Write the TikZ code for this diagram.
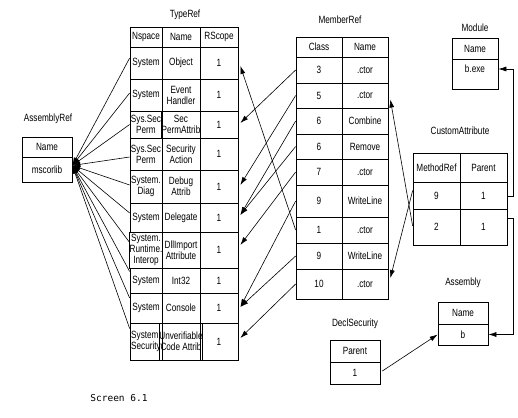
\documentclass[tikz,border=0pt]{standalone}
\usepackage{fontspec}
\setmainfont{Liberation Sans}
\newfontfamily\cond[FakeStretch=0.78]{Liberation Sans}
\newfontfamily\capfont{DejaVu Sans Mono}
\usetikzlibrary{arrows.meta,calc}
\newcommand\mycell[6]{\node[cell,minimum width={(#4)-(#2)},minimum height={(#5)-(#3)}] (#1) at ({((#2)+(#4))/2},{((#3)+(#5))/2}) {#6};}
\newcommand\trrow[6]{%
  \mycell{tr#1ns}{130}{#2}{162}{#3}{#4}%
  \mycell{tr#1nm}{162}{#2}{200}{#3}{#5}%
  \mycell{tr#1rs}{200}{#2}{238}{#3}{#6}}
\newcommand\mrrow[5]{%
  \mycell{mr#1cl}{296}{#2}{342}{#3}{#4}%
  \mycell{mr#1nm}{342}{#2}{388}{#3}{#5}}
\tikzset{
  cell/.style={draw,line width=0.7pt,inner sep=0pt,align=center,
    font=\cond\fontsize{10.5}{11}\selectfont},
  ttl/.style={inner sep=0pt,font=\cond\fontsize{10.5}{12}\selectfont},
  conn/.style={line width=0.6pt},
  tip/.tip={Latex[length=8pt,width=5pt]}
}
\begin{document}
\begin{tikzpicture}[x=1pt,y=-1pt]
\useasboundingbox (0,0) rectangle (518,417);
% ---------- TypeRef ----------
\node[ttl] (trt) at (185,15) {TypeRef};
\trrow{0}{27}{47}{Nspace}{Name}{RScope}
\trrow{1}{47}{79}{System}{Object}{1}
\trrow{2}{79}{111}{System}{Event\\Handler}{1}
\trrow{3}{111}{138}{Sys.Sec\\Perm}{Sec\\PermAttrib}{1}
\trrow{4}{138}{170}{Sys.Sec\\Perm}{Security\\Action}{1}
\trrow{5}{170}{203}{System.\\Diag}{Debug\\Attrib}{1}
\trrow{6}{203}{232}{System}{Delegate}{1}
\trrow{7}{232}{268}{System.\\Runtime.\\Interop}{DllImport\\Attribute}{1}
\trrow{8}{268}{293}{System}{Int32}{1}
\trrow{9}{293}{323}{System}{Console}{1}
\trrow{10}{323}{360}{System.\\Security}{Unverifiable\\Code Attrib}{1}
% ---------- AssemblyRef ----------
\node[ttl] (art) at (48,119) {AssemblyRef};
\mycell{arh}{22}{137}{72}{157}{Name}
\mycell{arv}{22}{157}{72}{182}{mscorlib}
% ---------- MemberRef ----------
\node[ttl] (mrt) at (340,20) {MemberRef};
\mrrow{0}{37}{57}{Class}{Name}
\mrrow{1}{57}{83}{3}{.ctor}
\mrrow{2}{83}{108}{5}{.ctor}
\mrrow{3}{108}{134}{6}{Combine}
\mrrow{4}{134}{159}{6}{Remove}
\mrrow{5}{159}{185}{7}{.ctor}
\mrrow{6}{185}{217}{9}{WriteLine}
\mrrow{7}{217}{243}{1}{.ctor}
\mrrow{8}{243}{269}{9}{WriteLine}
\mrrow{9}{269}{299}{10}{.ctor}
% ---------- Module ----------
\node[ttl] (modt) at (475,28) {Module};
\mycell{modh}{452}{38}{498}{59}{Name}
\node[cell,minimum width=46,minimum height=30,text height=7pt,text depth=9pt] (modv) at (475,74) {b.exe};
% ---------- CustomAttribute ----------
\node[ttl] (cat) at (460,131) {CustomAttribute};
\mycell{ca0mr}{413}{153}{460}{182}{MethodRef}
\mycell{ca0pa}{460}{153}{507}{182}{Parent}
\mycell{ca1mr}{413}{182}{460}{209}{9}
\mycell{ca1pa}{460}{182}{507}{209}{1}
\mycell{ca2mr}{413}{209}{460}{245}{2}
\mycell{ca2pa}{460}{209}{507}{245}{1}
% ---------- Assembly ----------
\node[ttl] (ast) at (463,283) {Assembly};
\mycell{ash}{438}{302}{488}{324}{Name}
\mycell{asv}{438}{324}{488}{345}{b}
% ---------- DeclSecurity ----------
\node[ttl] (dst) at (355,324) {DeclSecurity};
\mycell{dsh}{330}{340}{380}{362}{Parent}
\mycell{dsv}{330}{362}{380}{384}{1}
% ---------- caption ----------
\node[inner sep=0pt,font=\capfont\fontsize{9.5}{10}\selectfont] (cap) at (119,398) {Screen 6.1};
% ---------- AssemblyRef connectors ----------
\coordinate (hub) at ($(arv.east)+(0,-4)$);
\foreach \k/\d in {1/-5,2/-2,3/0,4/3,5/-1.5,6/-4.5,7/-8,8/-9,9/-10,10/-13}
  \draw[conn,tip-] (hub) -- ($(tr\k ns.west)+(0,\d)$);
% ---------- MemberRef -> TypeRef ----------
\foreach \m/\t/\d in {1/3/-1.5,2/5/-1.5,3/6/-2.5,4/6/-2.5,5/7/-5,6/9/-1,7/1/3,8/9/-1,9/10/-3.5}
  \draw[conn,-tip] (mr\m cl.west) -- ($(tr\t rs.east)+(2,\d)$);
% ---------- CustomAttribute -> MemberRef ----------
\draw[conn,-tip] ($(ca1mr.west)+(0,-5)$) -- ($(mr9nm.east)+(2,-6)$);
\draw[conn,-tip] ($(ca2mr.west)+(0,-1)$) -- ($(mr2nm.east)+(2,4)$);
% ---------- CustomAttribute -> Module / Assembly ----------
\draw[conn,-tip] ($(ca1pa.east)+(0,1)$) -- ++(6,0) |- ($(modv.east)+(0,-5)$);
\draw[conn,-tip] ($(ca2pa.east)+(0,-9)$) -- ++(6,0) |- (asv.east);
% ---------- DeclSecurity -> Assembly ----------
\draw[conn,-tip] ($(dsv.east)+(2,-2)$) -- (asv.west);
\end{tikzpicture}
\end{document}
